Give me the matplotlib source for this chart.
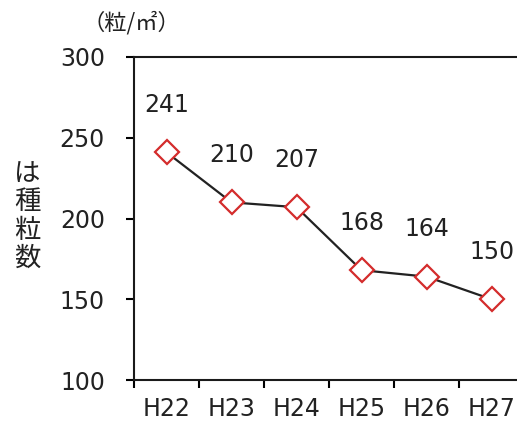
import matplotlib.pyplot as plt
from matplotlib.ticker import FixedLocator

plt.rcParams['font.family'] = ['DejaVu Sans', 'Noto Sans CJK JP']

years = ['H22', 'H23', 'H24', 'H25', 'H26', 'H27']
seeds = [241, 210, 207, 168, 164, 150]
yticks = [100, 150, 200, 250, 300]

W, H = 517, 425
fig = plt.figure(figsize=(W / 100, H / 100), dpi=100)
ax = fig.add_axes([134 / W, (H - 380) / H, 390 / W, (380 - 57) / H])

xs = [i + 0.5 for i in range(len(years))]
ax.plot(xs, seeds, color='#222222', lw=1.6, zorder=2,
        marker='D', ms=12, mfc='white', mec='#d42c2c', mew=1.6)

for x, v in zip(xs, seeds):
    ax.annotate(str(v), (x, v), xytext=(0, 34), textcoords='offset points',
                ha='center', va='center', fontsize=17, color='#222222')

ax.set_xlim(0, 6)
ax.set_ylim(100, 300)
ax.set_yticks(yticks)
ax.xaxis.set_major_locator(FixedLocator(range(7)))
ax.xaxis.set_minor_locator(FixedLocator(xs))
ax.set_xticklabels([])
ax.set_xticklabels(years, minor=True)

ax.tick_params(axis='y', direction='out', length=6, width=1.5, pad=15,
               labelsize=17, labelcolor='#222222')
ax.tick_params(axis='x', which='major', direction='out', length=6, width=1.5)
ax.tick_params(axis='x', which='minor', length=0, pad=12,
               labelsize=17, labelcolor='#222222')

for s in ['left', 'bottom', 'top']:
    ax.spines[s].set_linewidth(1.5)
    ax.spines[s].set_color('#1a1a1a')
ax.spines['right'].set_visible(False)

fig.text(27 / W, 1 - 216 / H, 'は\n種\n粒\n数', family=['Noto Sans CJK JP'],
         fontsize=19, ha='center', va='center', linespacing=1.05, color='#222222')
fig.text(131 / W, 1 - 23 / H, '（粒/㎡）', family=['Noto Sans CJK JP', 'DejaVu Sans'],
         fontsize=16, ha='center', va='center', color='#222222')

fig.savefig('out.png', dpi=100)
